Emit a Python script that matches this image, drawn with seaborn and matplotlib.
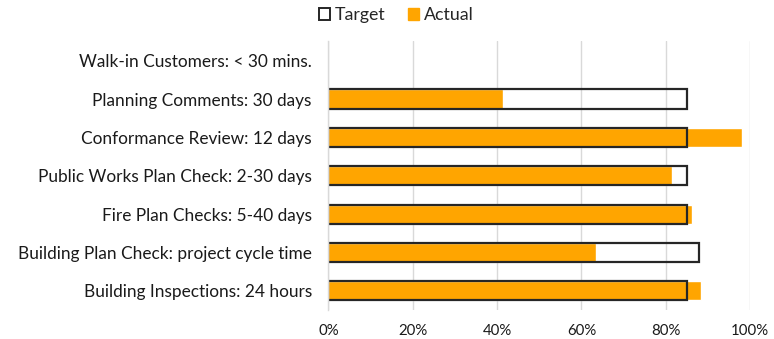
import numpy as np
import pandas as pd
import matplotlib
matplotlib.use("Agg")
import matplotlib.pyplot as plt
import seaborn as sns
from matplotlib.patches import Patch
from matplotlib.ticker import PercentFormatter

categories = [
    "Walk-in Customers: < 30 mins.",
    "Planning Comments: 30 days",
    "Conformance Review: 12 days",
    "Public Works Plan Check: 2-30 days",
    "Fire Plan Checks: 5-40 days",
    "Building Plan Check: project cycle time",
    "Building Inspections: 24 hours",
]
target = [np.nan, 85, 85, 85, 85, 88, 85]
actual = [np.nan, 41.3, 98, 81.4, 86.2, 63.5, 88.3]
x_ticks = [0, 20, 40, 60, 80, 100]

df = pd.DataFrame({"category": categories, "Target": target, "Actual": actual})

sns.set_theme(style="white")
plt.rcParams["font.family"] = ["Lato", "DejaVu Sans"]

fig = plt.figure(figsize=(7.74, 3.39), dpi=100)
ax = fig.add_axes([0.4244, 0.0855, 0.969 - 0.4244, 0.8776 - 0.0855])

orange = "#FFA500"
edge = "#262626"

sns.barplot(data=df, y="category", x="Actual", orient="h", color=orange,
            width=0.5, saturation=1, ax=ax, order=categories)
sns.barplot(data=df, y="category", x="Target", orient="h", fill=False,
            edgecolor=edge, linewidth=1.6, width=0.5, ax=ax, order=categories)

ax.set_xlim(0, 100)
ax.set_xticks(x_ticks)
ax.xaxis.set_major_formatter(PercentFormatter(decimals=0))
ax.set_xlabel("")
ax.set_ylabel("")
ax.grid(axis="x", color="#d9d9d9", linewidth=1)
ax.set_axisbelow(True)
for s in ["top", "right", "bottom"]:
    ax.spines[s].set_visible(False)
ax.spines["left"].set_color("#d9d9d9")
ax.spines["left"].set_linewidth(1)
ax.tick_params(axis="y", length=0, pad=12, labelsize=12.4, labelcolor="#1a1a1a")
ax.tick_params(axis="x", length=0, pad=10, labelsize=10.8, labelcolor="#1a1a1a")

handles = [
    Patch(facecolor="white", edgecolor=edge, linewidth=1.4, label="Target"),
    Patch(facecolor=orange, edgecolor=orange, label="Actual"),
]
fig.legend(handles=handles, loc="center", bbox_to_anchor=(0.512, 0.955), ncol=2,
           frameon=False, fontsize=12.8, handlelength=0.6, handleheight=0.6,
           handletextpad=0.25, columnspacing=1.3)

fig.savefig("out.png", dpi=100)
